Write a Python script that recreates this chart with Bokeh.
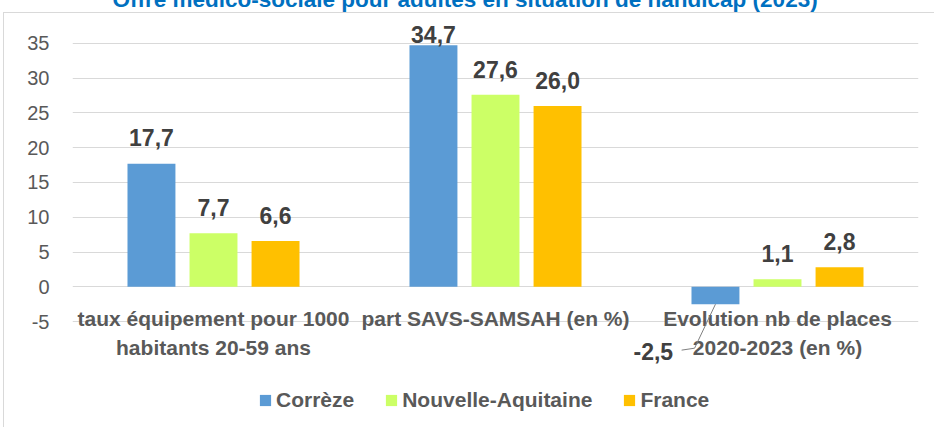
from bokeh.plotting import figure
from bokeh.models import ColumnDataSource, FactorRange, FixedTicker, Range1d
from bokeh.transform import dodge
from bokeh.core.properties import value
from bokeh.embed import file_html
from bokeh.resources import INLINE

# ---- data ----
categories = [
    "taux équipement pour 1000 habitants 20-59 ans",
    "part SAVS-SAMSAH (en %)",
    "Evolution nb de places 2020-2023 (en %)",
]
category_lines_1 = ["taux équipement pour 1000", "part SAVS-SAMSAH (en %)", "Evolution nb de places"]
category_lines_2 = ["habitants 20-59 ans", "", "2020-2023 (en %)"]
series_names = ["Corrèze", "Nouvelle-Aquitaine", "France"]
correze = [17.7, 34.7, -2.5]
nouvelle_aquitaine = [7.7, 27.6, 1.1]
france = [6.6, 26.0, 2.8]
y_ticks = [-5, 0, 5, 10, 15, 20, 25, 30, 35]
title_text = "Offre médico-sociale pour adultes en situation de handicap (2023)"

# ---- style ----
colors = ["#5B9BD5", "#CCFF66", "#FFC000"]
offsets = [-0.22, 0.0, 0.22]
FONT = "Liberation Sans"
W, H = 935, 450
ML, MR, MT, MB = 73, 16, 37, 10
Y_START, Y_END = -18.78, 38.557
PX = (H - MT - MB) / (Y_END - Y_START)
LABEL_GAP = 26 / PX
LABEL_CAP = 35 + 9 / PX
BORDER = "#D9D9D9"


def fmt(v):
    return f"{v:.1f}".replace(".", ",")


chart_border = (
    f"linear-gradient({BORDER},{BORDER}) 4px 35px / 1px 2000px no-repeat, "
    f"linear-gradient({BORDER},{BORDER}) 4px 35px / 3000px 1px no-repeat, white"
)

p = figure(
    width=W, height=H, x_range=FactorRange(factors=categories, range_padding=0),
    y_range=Range1d(Y_START, Y_END),
    output_backend="svg", toolbar_location=None,
    min_border_left=ML, min_border_right=MR, min_border_top=MT, min_border_bottom=MB,
    outline_line_color=None, background_fill_color=None, border_fill_color=None,
    styles={"margin-top": "-23px", "margin-left": "-1px", "margin-bottom": "-30px",
            "background": chart_border},
)

p.title.text = title_text
p.title.text_font = FONT
p.title.text_font_size = "22.5px"
p.title.text_font_style = "bold"
p.title.text_color = "#0070C0"
p.title.align = "left"
p.title.offset = 40
p.title.standoff = 14

p.xaxis.visible = False
p.xgrid.visible = False
p.ygrid.grid_line_color = BORDER
p.yaxis.ticker = FixedTicker(ticks=y_ticks)
p.yaxis.major_label_overrides = {t: str(t) for t in y_ticks}
p.yaxis.axis_line_color = None
p.yaxis.major_tick_line_color = None
p.yaxis.minor_tick_line_color = None
p.yaxis.major_tick_out = 0
p.yaxis.major_tick_in = 0
p.yaxis.minor_tick_out = 0
p.yaxis.major_label_standoff = 23
p.yaxis.major_label_text_font = FONT
p.yaxis.major_label_text_font_size = "20px"
p.yaxis.major_label_text_color = "#595959"

data = dict(cat=categories)
all_series = [correze, nouvelle_aquitaine, france]
for i, vals in enumerate(all_series):
    data[f"v{i}"] = vals
    data[f"t{i}"] = [fmt(v) if v >= 0 else "" for v in vals]
    data[f"y{i}"] = [min(v + LABEL_GAP, LABEL_CAP) if v >= 0 else 0 for v in vals]
data["l1"] = category_lines_1
data["l2"] = category_lines_2
src = ColumnDataSource(data)

for i, name in enumerate(series_names):
    p.vbar(x=dodge("cat", offsets[i], range=p.x_range), top=f"v{i}", bottom=0,
           width=0.17, source=src, fill_color=colors[i], line_color=None,
           legend_label=name)
    p.text(x=dodge("cat", offsets[i], range=p.x_range), y=f"y{i}", text=f"t{i}",
           source=src, text_align="center", text_baseline="middle",
           text_font=value(FONT), text_font_style="bold", text_font_size="23px",
           text_color="#404040")

# category labels
p.text(x="cat", y=-4.5, text="l1", source=src, text_align="center", text_baseline="middle",
       text_font=value(FONT), text_font_style="bold", text_font_size="21px", text_color="#595959")
p.text(x="cat", y=-8.75, text="l2", source=src, text_align="center", text_baseline="middle",
       text_font=value(FONT), text_font_style="bold", text_font_size="21px", text_color="#595959")

# callout for the negative value
neg_cat = categories[2]
neg_val = correze[2]
p.line(x=[(neg_cat, -0.22), (neg_cat, -0.294), (neg_cat, -0.34)],
       y=[neg_val, -8.82, -9.1], line_color="#808080", line_width=1)
p.text(x=[(neg_cat, -0.37)], y=[-9.25], text=[fmt(neg_val)], text_align="right",
       text_baseline="middle", text_font=value(FONT), text_font_style="bold",
       text_font_size="23px", text_color="#404040")

lg = p.legend[0]
lg.orientation = "horizontal"
lg.location = (186, 5)
lg.background_fill_alpha = 0
lg.border_line_color = None
lg.padding = 0
lg.margin = 0
lg.spacing = 30
lg.label_standoff = 4
lg.glyph_width = 14
lg.glyph_height = 14
lg.label_text_font = FONT
lg.label_text_font_style = "bold"
lg.label_text_font_size = "21px"
lg.label_text_color = "#595959"

open("out.html", "w").write(file_html(p, INLINE))
